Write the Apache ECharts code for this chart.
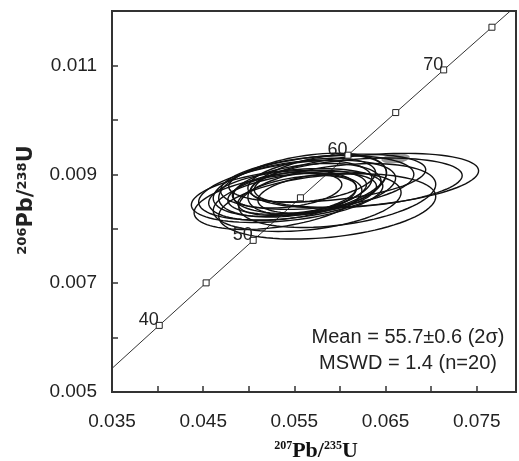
<!DOCTYPE html>
<html>
<head>
<meta charset="utf-8">
<script src="https://cdn.jsdelivr.net/npm/echarts@6/dist/echarts.min.js"></script>
<style>
  html, body { margin: 0; padding: 0; background: #fff; }
  #chart-container { width: 519px; height: 461px; }
</style>
</head>
<body>
<div id="chart-container"></div>
<script>
// concordia curve points (Ma, 207Pb/235U, 206Pb/238U)
const concAge = [35, 40, 45, 50, 55, 60, 65, 70, 75, 80];
const concX = [0.03507, 0.04018, 0.04532, 0.05048, 0.05566, 0.06087, 0.06611, 0.07137, 0.07666, 0.08197];
const concY = [0.005444, 0.006224, 0.007005, 0.007786, 0.008568, 0.009351, 0.010134, 0.010918, 0.011702, 0.012487];
const labelledAges = [40, 50, 60, 70];

// error ellipses: centre, half widths (2 sigma), correlation
const ellX = [0.0629, 0.0618, 0.0586, 0.0575, 0.0553, 0.0542, 0.0564, 0.0559, 0.0548, 0.0564,
              0.0575, 0.0553, 0.0537, 0.0569, 0.0553, 0.0542, 0.0575, 0.0532, 0.0586, 0.0597];
const ellY = [0.00889, 0.00884, 0.00893, 0.00885, 0.00871, 0.00861, 0.00850, 0.00880, 0.00874, 0.00874,
              0.00880, 0.00867, 0.00861, 0.00889, 0.00861, 0.00871, 0.00865, 0.00850, 0.00841, 0.00861];
const ellSx = [0.0123, 0.0116, 0.0108, 0.0106, 0.0108, 0.0105, 0.0103, 0.0092, 0.0087, 0.0081,
               0.0076, 0.0076, 0.0081, 0.0070, 0.0065, 0.0060, 0.0065, 0.0092, 0.0119, 0.0108];
const ellSy = [0.000495, 0.000459, 0.000440, 0.000495, 0.000550, 0.000495, 0.000550, 0.000587, 0.000514, 0.000459,
               0.000550, 0.000404, 0.000459, 0.000404, 0.000367, 0.000330, 0.000367, 0.000514, 0.000600, 0.000587];
const ellRho = [0.35, 0.3, 0.35, 0.3, 0.4, 0.35, 0.3, 0.4, 0.35, 0.3,
                0.4, 0.35, 0.3, 0.35, 0.4, 0.3, 0.35, 0.4, 0.3, 0.35];

// small grey filled ellipse near the top right of the cluster
const greyEll = [[0.0661, 0.00929, 0.0015, 0.00008, 0.3]];

const xMin = 0.035, xMax = 0.0793, yMin = 0.005, yMax = 0.012;

const chartDom = document.getElementById('chart-container');
const myChart = echarts.init(chartDom);

const ellipseData = ellX.map((x, i) => [x, ellY[i], ellSx[i], ellSy[i], ellRho[i]]);

const makeEllipse = (fill, stroke, lw) => (params, api) => {
    const cx = api.value(0), cy = api.value(1);
    const sx = api.value(2), sy = api.value(3), rho = api.value(4);
    const pts = [];
    const k = Math.sqrt(1 - rho * rho);
    for (let i = 0; i < 90; i++) {
        const t = i / 90 * Math.PI * 2;
        pts.push(api.coord([cx + sx * Math.cos(t), cy + sy * (rho * Math.cos(t) + k * Math.sin(t))]));
    }
    return {
        type: 'polygon',
        shape: { points: pts },
        style: { fill: fill, stroke: stroke, lineWidth: lw }
    };
};

const markerData = concAge
    .map((a, i) => [concX[i], concY[i], a])
    .filter(d => d[2] >= 40 && d[2] <= 75);

const option = {
    animation: false,
    backgroundColor: '#fff',
    grid: {
        left: 112, right: -3, top: 11, bottom: 69,
        show: true, borderColor: '#333', borderWidth: 2
    },
    xAxis: {
        type: 'value',
        min: xMin, max: xMax, interval: 0.005,
        axisLine: { lineStyle: { color: '#333', width: 2 } },
        axisTick: { inside: true, length: 6, lineStyle: { color: '#333', width: 1.5 } },
        splitLine: { show: false },
        axisLabel: {
            margin: 20,
            fontFamily: 'Liberation Sans', fontSize: 19, color: '#222',
            formatter: v => (Math.round(v * 1000) % 10 === 5 ? v.toFixed(3) : '')
        }
    },
    yAxis: {
        type: 'value',
        min: yMin, max: yMax, interval: 0.001,
        axisLine: { lineStyle: { color: '#333', width: 2 } },
        axisTick: { inside: true, length: 6, lineStyle: { color: '#333', width: 1.5 } },
        splitLine: { show: false },
        axisLabel: {
            margin: 15,
            fontFamily: 'Liberation Sans', fontSize: 19, color: '#222',
            formatter: v => (Math.round(v * 1000) % 2 === 1 ? v.toFixed(3) : '')
        }
    },
    series: [
        {
            type: 'line',
            data: concX.map((x, i) => [x, concY[i]]),
            showSymbol: false,
            clip: true,
            lineStyle: { color: '#333', width: 1 },
            z: 1
        },
        {
            type: 'custom',
            data: greyEll,
            encode: { x: 0, y: 1 },
            renderItem: makeEllipse('#999', '#888', 1),
            clip: true,
            z: 2
        },
        {
            type: 'custom',
            data: ellipseData,
            encode: { x: 0, y: 1 },
            renderItem: makeEllipse('none', '#111', 1.4),
            clip: true,
            z: 3
        },
        {
            type: 'scatter',
            data: markerData,
            symbol: 'rect',
            symbolSize: 6,
            itemStyle: { color: '#fff', borderColor: '#222', borderWidth: 1, opacity: 1 },
            label: {
                show: true,
                position: 'left',
                distance: 0,
                offset: [3, -5],
                fontFamily: 'Liberation Sans', fontSize: 18, color: '#222', opacity: 1,
                formatter: p => (labelledAges.includes(p.value[2]) ? String(p.value[2]) : '')
            },
            z: 4
        }
    ],
    graphic: [
        {
            type: 'text',
            x: 408, y: 350,
            style: {
                text: 'Mean = 55.7±0.6 (2σ)\nMSWD = 1.4 (n=20)',
                align: 'center', verticalAlign: 'middle',
                fontFamily: 'Liberation Sans', fontSize: 20, lineHeight: 26,
                fill: '#222'
            }
        },
        {
            type: 'text',
            x: 316, y: 451,
            style: {
                text: '{s|207}{m|Pb/}{s|235}{m|U}',
                align: 'center', verticalAlign: 'middle',
                rich: {
                    s: { fontFamily: 'Liberation Serif', fontWeight: 'bold', fontSize: 12, verticalAlign: 'top', fill: '#111' },
                    m: { fontFamily: 'Liberation Serif', fontWeight: 'bold', fontSize: 22, fill: '#111' }
                }
            }
        },
        {
            type: 'text',
            x: 27, y: 200,
            rotation: Math.PI / 2,
            style: {
                text: '{s|206}{m|Pb/}{s|238}{m|U}',
                align: 'center', verticalAlign: 'middle',
                rich: {
                    s: { fontFamily: 'DejaVu Sans', fontWeight: 'bold', fontSize: 13, verticalAlign: 'top', fill: '#222' },
                    m: { fontFamily: 'DejaVu Sans', fontWeight: 'bold', fontSize: 21, fill: '#222' }
                }
            }
        }
    ]
};

myChart.setOption(option);
</script>
</body>
</html>
